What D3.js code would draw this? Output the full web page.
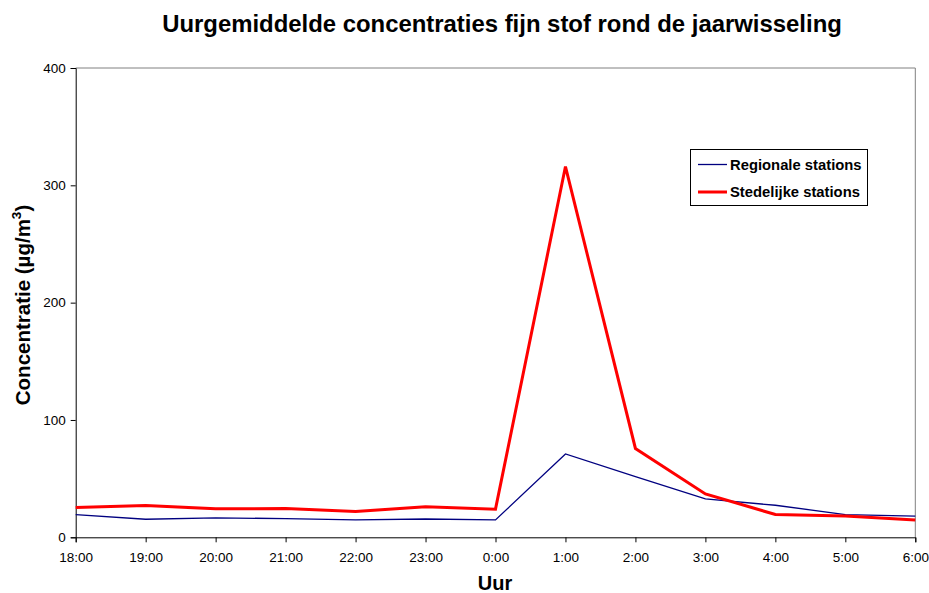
<!DOCTYPE html>
<html>
<head>
<meta charset="utf-8">
<script src="https://cdn.jsdelivr.net/npm/d3@7"></script>
<style>
  body { margin: 0; background: #fff; }
  text { font-family: "Liberation Sans", Arial, sans-serif; }
</style>
</head>
<body>
<svg id="chart" width="929" height="593"></svg>
<script>
const hours = ["18:00","19:00","20:00","21:00","22:00","23:00","0:00","1:00","2:00","3:00","4:00","5:00","6:00"];
const regionale = [19.4, 15.4, 16.5, 16, 14.8, 15.6, 14.8, 71, 51.8, 32.7, 27.3, 19.4, 18];
const stedelijke = [25.3, 27, 24.3, 24.5, 22, 26, 24, 316, 75.7, 37, 19.4, 18.2, 14.8];
const yTicks = [0, 100, 200, 300, 400];
const seriesNames = ["Regionale stations", "Stedelijke stations"];

const svg = d3.select("#chart");
const L = 75.7, R = 915.3, T = 68, B = 537.3;

const x = d3.scalePoint().domain(hours).range([L, R]).padding(0);
const y = d3.scaleLinear().domain([0, 400]).range([B, T]);

// frame (top and right gray)
svg.append("path")
  .attr("d", `M${L},${T}H${R}V${B}`)
  .attr("fill", "none").attr("stroke", "#808080").attr("stroke-width", 1);

// axes
const yAxis = d3.axisLeft(y).tickValues(yTicks).tickSize(5).tickPadding(5).tickFormat(d3.format("d"));
const gy = svg.append("g").attr("transform", `translate(${L},0)`).call(yAxis);
gy.select(".domain").attr("stroke", "#000");
gy.selectAll("text").attr("font-size", 13.5).attr("fill", "#000")
  .style("font-family", "'Liberation Sans', Arial, sans-serif");

const xAxis = d3.axisBottom(x).tickSize(5).tickPadding(10);
const gx = svg.append("g").attr("transform", `translate(0,${B})`).call(xAxis);
gx.select(".domain").attr("stroke", "#000");
gx.selectAll("text").attr("font-size", 13.5).attr("fill", "#000")
  .style("font-family", "'Liberation Sans', Arial, sans-serif");

// lines
const line = d3.line().x((d, i) => x(hours[i])).y(d => y(d));
svg.append("path").datum(regionale).attr("d", line)
  .attr("fill", "none").attr("stroke", "#000080").attr("stroke-width", 1.3);
svg.append("path").datum(stedelijke).attr("d", line)
  .attr("fill", "none").attr("stroke", "#ff0000").attr("stroke-width", 3)
  .attr("stroke-linejoin", "miter");

// title
svg.append("text").attr("x", 502).attr("y", 32).attr("text-anchor", "middle")
  .attr("font-size", 23.9).attr("font-weight", "bold")
  .text("Uurgemiddelde concentraties fijn stof rond de jaarwisseling");

// x label
svg.append("text").attr("x", 495).attr("y", 590).attr("text-anchor", "middle")
  .attr("font-size", 20).attr("font-weight", "bold").text("Uur");

// y label
const yl = svg.append("text").attr("transform", "translate(30,305) rotate(-90)")
  .attr("text-anchor", "middle").attr("font-size", 20.5).attr("font-weight", "bold");
yl.append("tspan").text("Concentratie (µg/m");
yl.append("tspan").attr("font-size", 13.5).attr("dy", -9).text("3");
yl.append("tspan").attr("dy", 9).text(")");

// legend
const lg = svg.append("g");
lg.append("rect").attr("x", 690.5).attr("y", 149.5).attr("width", 177).attr("height", 56)
  .attr("fill", "#fff").attr("stroke", "#000").attr("stroke-width", 1);
const colors = ["#000080", "#ff0000"], widths = [1.3, 3];
seriesNames.forEach((n, i) => {
  const yy = 164.5 + i * 27.5;
  lg.append("line").attr("x1", 698).attr("x2", 727).attr("y1", yy).attr("y2", yy)
    .attr("stroke", colors[i]).attr("stroke-width", widths[i]);
  lg.append("text").attr("x", 730).attr("y", yy + 5.3).attr("font-size", 14.8)
    .attr("font-weight", "bold").text(n);
});
</script>
</body>
</html>
